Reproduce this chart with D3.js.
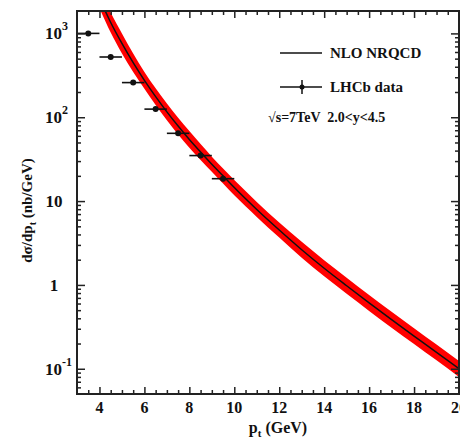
<!DOCTYPE html>
<html>
<head>
<meta charset="utf-8">
<script src="https://cdn.jsdelivr.net/npm/d3@7"></script>
<style>
  body { margin: 0; background: #fff; }
  svg text { font-family: "Liberation Serif", "DejaVu Serif", serif; font-weight: bold; fill: #111; }
</style>
</head>
<body>
<div id="chart"></div>
<script>
// NLO NRQCD prediction (central line and band)
const ptGrid   = [4.0, 4.5, 5.0, 5.5, 6.0, 6.5, 7.0, 7.5, 8.0, 8.5, 9.0, 9.5, 10, 11, 12, 13, 14, 15, 16, 17, 18, 19, 20];
const nloMid   = [2630, 1350, 759, 447, 275, 176, 116, 78.5, 54.3, 38.5, 27.5, 20.0, 14.5, 7.94, 4.52, 2.63, 1.58, 0.977, 0.61, 0.385, 0.245, 0.157, 0.100];
const nloUpper = [3467, 1778, 1000, 575, 347, 221, 146, 98.9, 68.4, 47.9, 33.9, 24.5, 17.8, 9.77, 5.56, 3.27, 1.97, 1.22, 0.759, 0.479, 0.305, 0.195, 0.124];
const nloLower = [1995, 1023, 575, 347, 219, 140, 92.3, 62.4, 43.2, 30.9, 22.4, 16.2, 11.7, 6.46, 3.67, 2.11, 1.27, 0.785, 0.490, 0.309, 0.197, 0.126, 0.080];

// LHCb data
const dataPt   = [3.5, 4.5, 5.5, 6.5, 7.5, 8.5, 9.5];
const dataVal  = [1000, 523, 259, 125, 64.3, 34.9, 18.5];
const dataYErr = [60, 30, 15, 7, 4, 2.2, 1.3];
const dataXErr = [0.5, 0.5, 0.5, 0.5, 0.5, 0.5, 0.5];

const xMajor = [4, 6, 8, 10, 12, 14, 16, 18, 20];
const yMajor = [1000, 100, 10, 1, 0.1];
const yLabels = [["10", "3"], ["10", "2"], ["10", ""], ["1", ""], ["10", "-1"]];

const W = 460, H = 439;
const margin = { top: 11, right: 1, bottom: 45, left: 77 };

const svg = d3.select("#chart").append("svg")
  .attr("width", W).attr("height", H);

const x = d3.scaleLinear().domain([3, 20]).range([margin.left, W - margin.right]);
const y = d3.scaleLog().domain([0.05, 1850]).range([H - margin.bottom, margin.top]);

const x0 = x.range()[0], x1 = x.range()[1], y0 = y.range()[0], y1 = y.range()[1];

svg.append("clipPath").attr("id", "plot")
  .append("rect").attr("x", x0).attr("y", y1).attr("width", x1 - x0).attr("height", y0 - y1);

const plot = svg.append("g").attr("clip-path", "url(#plot)");

const band = ptGrid.map((p, i) => ({ p, lo: nloLower[i], hi: nloUpper[i], mid: nloMid[i] }));

plot.append("path")
  .datum(band)
  .attr("fill", "#ff0000")
  .attr("d", d3.area()
    .x(d => x(d.p)).y0(d => y(d.lo)).y1(d => y(d.hi))
    .curve(d3.curveMonotoneX));

plot.append("path")
  .datum(band)
  .attr("fill", "none")
  .attr("stroke", "#111")
  .attr("stroke-width", 1.5)
  .attr("d", d3.line().x(d => x(d.p)).y(d => y(d.mid)).curve(d3.curveMonotoneX));

// data points
const pts = plot.append("g");
dataPt.forEach((p, i) => {
  pts.append("line")
    .attr("x1", x(p - dataXErr[i])).attr("x2", x(p + dataXErr[i]))
    .attr("y1", y(dataVal[i])).attr("y2", y(dataVal[i]))
    .attr("stroke", "#111").attr("stroke-width", 1.6);
  pts.append("line")
    .attr("x1", x(p)).attr("x2", x(p))
    .attr("y1", y(dataVal[i] - dataYErr[i])).attr("y2", y(dataVal[i] + dataYErr[i]))
    .attr("stroke", "#111").attr("stroke-width", 1.6);
  pts.append("circle")
    .attr("cx", x(p)).attr("cy", y(dataVal[i])).attr("r", 3)
    .attr("fill", "#111");
});

// axes (ticks inward)
const xMinor = d3.range(3.5, 20.01, 0.5).filter(v => !xMajor.includes(v));
const yMinor = [];
[-2, -1, 0, 1, 2, 3].forEach(e => {
  for (let k = 2; k <= 9; k++) {
    const v = k * Math.pow(10, e);
    if (v > 0.05 && v < 1850) yMinor.push(v);
  }
});

function styleAxis(g) {
  g.select(".domain").remove();
  g.selectAll(".tick line").attr("stroke", "#222").attr("stroke-width", 1.5);
  g.selectAll(".tick text").remove();
}

svg.append("g").attr("transform", `translate(0,${y0})`)
  .call(d3.axisBottom(x).tickValues(xMajor).tickSize(-7)).call(styleAxis);
svg.append("g").attr("transform", `translate(0,${y0})`)
  .call(d3.axisBottom(x).tickValues(xMinor).tickSize(-4)).call(styleAxis);
svg.append("g").attr("transform", `translate(0,${y1})`)
  .call(d3.axisTop(x).tickValues(xMajor).tickSize(-7)).call(styleAxis);
svg.append("g").attr("transform", `translate(0,${y1})`)
  .call(d3.axisTop(x).tickValues(xMinor).tickSize(-4)).call(styleAxis);

svg.append("g").attr("transform", `translate(${x0},0)`)
  .call(d3.axisLeft(y).tickValues(yMajor).tickSize(-8)).call(styleAxis);
svg.append("g").attr("transform", `translate(${x0},0)`)
  .call(d3.axisLeft(y).tickValues(yMinor).tickSize(-4)).call(styleAxis);
svg.append("g").attr("transform", `translate(${x1},0)`)
  .call(d3.axisRight(y).tickValues(yMajor).tickSize(-8)).call(styleAxis);
svg.append("g").attr("transform", `translate(${x1},0)`)
  .call(d3.axisRight(y).tickValues(yMinor).tickSize(-4)).call(styleAxis);

// frame
svg.append("rect")
  .attr("x", x0).attr("y", y1).attr("width", x1 - x0).attr("height", y0 - y1)
  .attr("fill", "none").attr("stroke", "#222").attr("stroke-width", 2);

// x tick labels
svg.append("g").selectAll("text").data(xMajor).join("text")
  .attr("x", d => x(d)).attr("y", y0 + 19)
  .attr("text-anchor", "middle").attr("font-size", 16)
  .text(d => d);

// y tick labels
yMajor.forEach((v, i) => {
  const [base, exp] = yLabels[i];
  const t = svg.append("text").attr("font-size", 17).attr("y", y(v) + 6);
  if (exp) {
    t.attr("x", 45).attr("text-anchor", "start");
    t.append("tspan").text(base);
    t.append("tspan").attr("dy", -9).attr("font-size", 12).text(exp);
  } else {
    t.attr("x", 54).attr("text-anchor", "middle").text(base);
  }
});

// axis titles
const xt = svg.append("text").attr("x", 278).attr("y", 433)
  .attr("text-anchor", "middle").attr("font-size", 16);
xt.append("tspan").text("p");
xt.append("tspan").attr("dy", 4).attr("font-size", 11).text("t");
xt.append("tspan").attr("dy", -4).text(" (GeV)");

const yt = svg.append("text")
  .attr("transform", `translate(32,${(y0 + y1) / 2 + 8}) rotate(-90)`)
  .attr("text-anchor", "middle").attr("font-size", 15);
yt.append("tspan").text("dσ/dp");
yt.append("tspan").attr("dy", 4).attr("font-size", 10).text("t");
yt.append("tspan").attr("dy", -4).text(" (nb/GeV)");

// legend
const lg = svg.append("g");
lg.append("line").attr("x1", 280).attr("x2", 322).attr("y1", 53).attr("y2", 53)
  .attr("stroke", "#111").attr("stroke-width", 1.5);
lg.append("text").attr("x", 330).attr("y", 58).attr("font-size", 15).text("NLO NRQCD");
lg.append("line").attr("x1", 280).attr("x2", 322).attr("y1", 87).attr("y2", 87)
  .attr("stroke", "#111").attr("stroke-width", 1.5);
lg.append("line").attr("x1", 302).attr("x2", 302).attr("y1", 80).attr("y2", 94)
  .attr("stroke", "#111").attr("stroke-width", 1.5);
lg.append("circle").attr("cx", 302).attr("cy", 87).attr("r", 2.5).attr("fill", "#111");
lg.append("text").attr("x", 330).attr("y", 92).attr("font-size", 15).text("LHCb data");
lg.append("text").attr("x", 268).attr("y", 122).attr("font-size", 14)
  .attr("xml:space", "preserve").text("√s=7TeV  2.0<y<4.5");
</script>
</body>
</html>
